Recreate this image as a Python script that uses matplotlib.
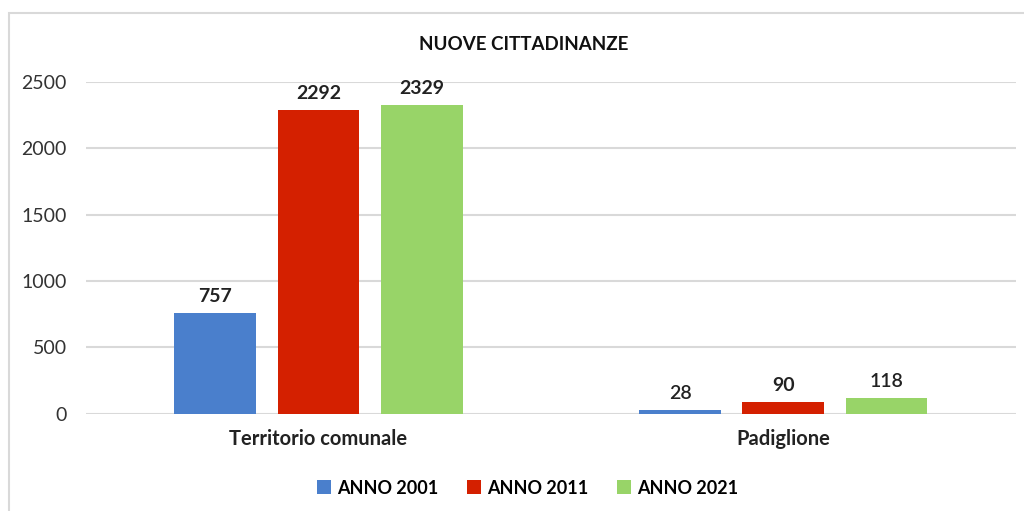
import matplotlib.pyplot as plt
import numpy as np
from matplotlib.patches import Rectangle

categories = ['Territorio comunale', 'Padiglione']
series_names = ['ANNO 2001', 'ANNO 2011', 'ANNO 2021']
anno_2001 = [757, 28]
anno_2011 = [2292, 90]
anno_2021 = [2329, 118]
y_ticks = [0, 500, 1000, 1500, 2000, 2500]

colors = ['#4a7fcc', '#d42000', '#98d468']

plt.rcParams['font.family'] = ['Lato', 'DejaVu Sans']

fig = plt.figure(figsize=(10.24, 5.11), dpi=100)
ax = fig.add_axes([0.084, 0.1908, 0.908, 0.6487])

# cornice del grafico (solo lati sinistro e superiore visibili)
fig.patches.append(Rectangle((9 / 1024, -0.1), 1.2, 1 - 13 / 511 + 0.1,
                             transform=fig.transFigure, fill=False,
                             edgecolor='#d9d9d9', linewidth=1.5))

x = np.arange(len(categories))
width = 0.176
step = 0.222
values = [anno_2001, anno_2011, anno_2021]

for i, (name, vals, col) in enumerate(zip(series_names, values, colors)):
    bars = ax.bar(x + (i - 1) * step, vals, width, color=col, label=name, zorder=3)
    for j, b in enumerate(bars):
        weight = 'bold' if j == 0 or i == 1 else 'semibold'
        ax.text(b.get_x() + b.get_width() / 2, b.get_height() + 60, str(vals[j]),
                ha='center', va='bottom', fontsize=14, fontweight=weight,
                color='#222222')

ax.set_xlim(-0.5, 1.5)
ax.set_ylim(0, 2500)
ax.set_yticks(y_ticks)
ax.set_xticks(x)
ax.set_xticklabels(categories, fontsize=14.5, fontweight='bold', color='#222222')
ax.tick_params(axis='y', length=0, pad=14, labelsize=14, labelcolor='#333333')
ax.tick_params(axis='x', length=0, pad=11)
ax.grid(axis='y', color='#d9d9d9', linewidth=1.5, zorder=0)
for s in ax.spines.values():
    s.set_visible(False)

fig.text(0.511, 0.913, 'NUOVE CITTADINANZE', ha='center', va='center',
         fontsize=13.5, fontweight='bold', color='#111111')

fig.legend(loc='center', bbox_to_anchor=(0.515, 0.045), ncol=3, frameon=False,
           prop={'size': 13, 'weight': 'bold'}, handlelength=0.8, handleheight=0.8,
           handletextpad=0.3, columnspacing=1.6)

fig.savefig('out.png', dpi=100)
